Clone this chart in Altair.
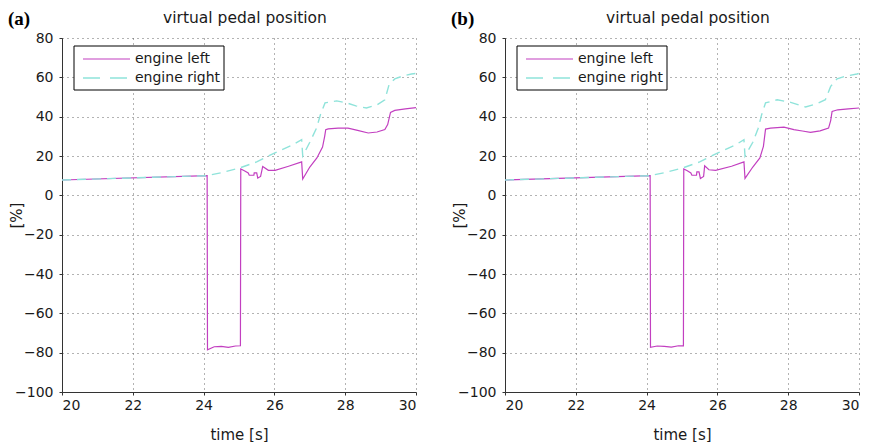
import altair as alt
import pandas as pd

# ---------------- data ----------------
series_names = ["engine left", "engine right"]
panel_labels = ["(a)", "(b)"]
title_text = "virtual pedal position"
x_ticks = [20, 22, 24, 26, 28, 30]
y_ticks = [-100, -80, -60, -40, -20, 0, 20, 40, 60, 80]

# panel (a)
t_left_a = [20, 24.1, 24.11, 24.3, 24.5, 24.7, 24.9, 25.04, 25.05, 25.15, 25.26, 25.29,
            25.42, 25.43, 25.5, 25.53, 25.61, 25.67, 25.83, 26.02, 26.4, 26.77, 26.8,
            27.0, 27.2, 27.36, 27.42, 27.45, 27.52, 27.8, 28.08, 28.35, 28.65, 28.9,
            29.12, 29.2, 29.28, 29.4, 29.7, 30]
v_left_a = [7.8, 10, -78.5, -77, -76.8, -77.3, -76.6, -76.5, 13.4, 12.5, 11.4, 10.2,
            10.2, 11.4, 11.4, 8.8, 9.6, 14.7, 12.7, 12.7, 14.8, 17, 8.3,
            14.4, 19, 24.5, 30, 33.4, 33.8, 34.2, 34.2, 33, 31.7, 32.2,
            33.5, 36, 42.2, 43.2, 44, 44.6]
t_right_a = [20, 24.1, 24.5, 25.0, 25.5, 26.0, 26.5, 26.77, 26.8, 27.0, 27.19, 27.3,
             27.43, 27.76, 28.04, 28.3, 28.6, 28.9, 29.12, 29.24, 29.4, 29.6, 29.87, 30]
v_right_a = [7.8, 10, 11.5, 13.8, 17, 21.5, 25.5, 28.3, 20, 27, 34.2, 41,
             47, 48, 47, 45.5, 44.4, 46, 48.6, 56.3, 59.2, 60.5, 61.7, 62]

# panel (b)
t_left_b = [20, 24.1, 24.11, 24.3, 24.5, 24.7, 24.9, 25.04, 25.05, 25.15, 25.25, 25.28,
            25.41, 25.42, 25.48, 25.52, 25.61, 25.64, 25.76, 25.95, 26.4, 26.75, 26.78,
            27.0, 27.2, 27.3, 27.36, 27.5, 27.88, 28.16, 28.4, 28.63, 28.9,
            29.14, 29.2, 29.24, 29.4, 29.7, 30]
v_left_b = [7.8, 10, -77.3, -76.6, -76.8, -77.2, -76.5, -76.5, 13.4, 12.5, 11.4, 10.2,
            10.2, 11.9, 11.9, 8.6, 9.6, 15, 13, 12.7, 14.8, 17, 8.6,
            14.4, 19, 24.9, 33.7, 34.2, 34.7, 33.4, 32.7, 32, 32.8,
            34.2, 38, 42.7, 43.5, 44, 44.4]
t_right_b = [20, 24.1, 24.5, 25.0, 25.5, 26.0, 26.5, 26.75, 26.78, 27.0, 27.15, 27.25,
             27.36, 27.69, 28.07, 28.49, 28.8, 29.05, 29.2, 29.38, 29.6, 29.94, 30]
v_right_b = [7.8, 10, 11.5, 13.8, 17, 21.5, 25.5, 28.3, 20, 27, 34, 41,
             47, 48.6, 47.3, 44.9, 46.5, 48.6, 55.4, 59.2, 60.5, 61.7, 62]

# ---------------- style ----------------
FONT = "DejaVu Sans"
MAGENTA = "#c23fc0"
CYAN = "#8fe3da"
W = 354
H = 354


def frame(t, v, name):
    return pd.DataFrame({"t": t, "v": v, "series": name, "order": list(range(len(t)))})


def panel(tl, vl, tr, vr, label):
    df_l = frame(tl, vl, series_names[0])
    df_r = frame(tr, vr, series_names[1])

    x = alt.X("t:Q",
              scale=alt.Scale(domain=[20, 30], nice=False, zero=False),
              axis=alt.Axis(values=x_ticks, title="time [s]", grid=True,
                            gridDash=[1, 4], gridColor="#555", gridWidth=0.9,
                            domainColor="#333", tickColor="#333", tickSize=3,
                            labelPadding=3, labelFont=FONT, labelFontSize=14,
                            labelColor="#1a1a1a", titleFont=FONT, titleFontSize=15,
                            titleFontWeight="normal", titleColor="#1a1a1a",
                            titlePadding=15))
    y = alt.Y("v:Q",
              scale=alt.Scale(domain=[-100, 80], nice=False, zero=False),
              axis=alt.Axis(values=y_ticks, title="[%]", grid=True,
                            gridDash=[1, 4], gridColor="#555", gridWidth=0.9,
                            domainColor="#333", tickColor="#333", tickSize=3,
                            labelPadding=6, labelFont=FONT, labelFontSize=14,
                            labelColor="#1a1a1a", titleFont=FONT, titleFontSize=15,
                            titleFontWeight="normal", titleColor="#1a1a1a",
                            titleX=-38, titleY=H / 2, titleAngle=270,
                            titleAlign="center", titleBaseline="bottom"))

    left_line = alt.Chart(df_l).mark_line(color=MAGENTA, strokeWidth=1.2).encode(
        x=x, y=y, order="order:Q")
    right_line = alt.Chart(df_r).mark_line(color=CYAN, strokeWidth=1.4,
                                           strokeDash=[9, 6]).encode(
        x=x, y=y, order="order:Q")

    one = pd.DataFrame({"k": [0]})
    box = alt.Chart(one).mark_rect(fill="white", stroke="black", strokeWidth=1).encode(
        x=alt.value(12), x2=alt.value(162), y=alt.value(8), y2=alt.value(52))
    sample_l = alt.Chart(one).mark_rule(color=MAGENTA, strokeWidth=1.2).encode(
        x=alt.value(21), x2=alt.value(68), y=alt.value(21))
    sample_r = alt.Chart(one).mark_rule(color=CYAN, strokeWidth=1.4,
                                        strokeDash=[17, 10]).encode(
        x=alt.value(21), x2=alt.value(68), y=alt.value(40))
    text_l = alt.Chart(one).mark_text(align="left", baseline="middle", font=FONT,
                                      fontSize=14, color="#1a1a1a").encode(
        x=alt.value(73), y=alt.value(21), text=alt.value(series_names[0]))
    text_r = alt.Chart(one).mark_text(align="left", baseline="middle", font=FONT,
                                      fontSize=14, color="#1a1a1a").encode(
        x=alt.value(73), y=alt.value(40), text=alt.value(series_names[1]))
    ttl = alt.Chart(one).mark_text(align="center", baseline="alphabetic", font=FONT,
                                   fontSize=15.5, color="#1a1a1a").encode(
        x=alt.value(W / 2 + 6), y=alt.value(-15), text=alt.value(title_text))
    lab = alt.Chart(one).mark_text(align="left", baseline="alphabetic",
                                   font="Liberation Serif", fontWeight="bold",
                                   fontSize=19, color="black").encode(
        x=alt.value(-54), y=alt.value(-13), text=alt.value(label))

    return alt.layer(left_line, right_line, box, sample_l, sample_r, text_l, text_r,
                     ttl, lab).properties(width=W, height=H)


pa = panel(t_left_a, v_left_a, t_right_a, v_right_a, panel_labels[0])
pb = panel(t_left_b, v_left_b, t_right_b, v_right_b, panel_labels[1])

chart = alt.hconcat(pa, pb, spacing=32).configure_view(strokeWidth=0).properties(
    padding={"left": 0, "top": 2, "right": 0, "bottom": 0},
    background="white")

chart.save("out.html", embed_options={"renderer": "svg", "actions": False})
